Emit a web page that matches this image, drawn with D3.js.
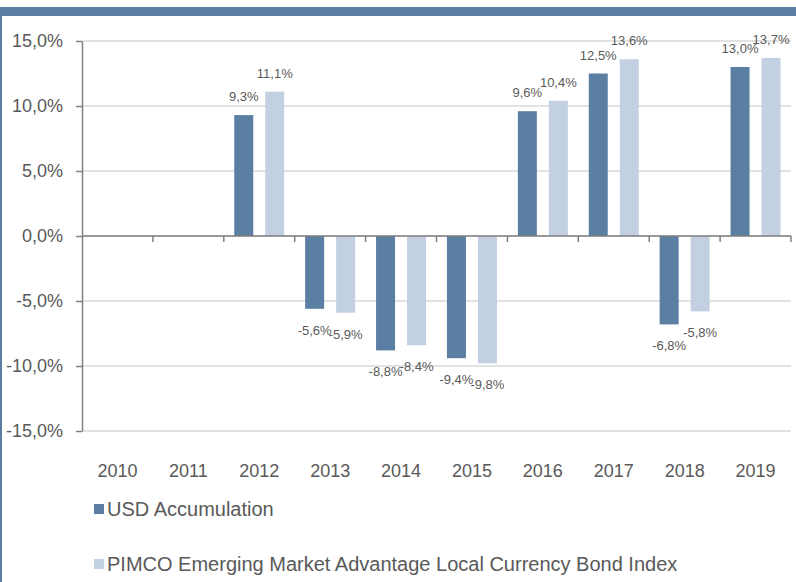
<!DOCTYPE html>
<html>
<head>
<meta charset="utf-8">
<script src="https://cdn.jsdelivr.net/npm/d3@7"></script>
<style>
  body { margin: 0; background: #fff; }
  svg { display: block; font-family: "Liberation Sans", Arial, sans-serif; }
</style>
</head>
<body>
<svg id="chart" width="796" height="582"></svg>
<script>
let years = ["2010","2011","2012","2013","2014","2015","2016","2017","2018","2019"];
let fund = [null, null, 9.3, -5.6, -8.8, -9.4, 9.6, 12.5, -6.8, 13.0];
let index = [null, null, 11.1, -5.9, -8.4, -9.8, 10.4, 13.6, -5.8, 13.7];
let yTicks = [15, 10, 5, 0, -5, -10, -15];
let seriesNames = ["USD Accumulation", "PIMCO Emerging Market Advantage Local Currency Bond Index"];
let colors = ["#5b7fa3", "#c3d0e2"];

let fmt = v => d3.format(".1f")(v).replace(".", ",").replace("−", "-") + "%";

let svg = d3.select("#chart");
let plotLeft = 82, plotRight = 791, plotTop = 41, plotBottom = 431;

// frame
svg.append("rect").attr("x", 0).attr("y", 7).attr("width", 796).attr("height", 9).attr("fill", "#5b7fa3");
svg.append("rect").attr("x", 0).attr("y", 7).attr("width", 2).attr("height", 575).attr("fill", "#5b7fa3");

let x = d3.scaleBand().domain(years).range([plotLeft, plotRight]);
let y = d3.scaleLinear().domain([-15, 15]).range([plotBottom, plotTop]);

// gridlines
svg.append("g").selectAll("line").data(yTicks).enter().append("line")
    .attr("x1", plotLeft).attr("x2", plotRight)
    .attr("y1", d => y(d)).attr("y2", d => y(d))
    .attr("stroke", "#d9d9d9").attr("stroke-width", 1.5);

// y axis
let yAxis = svg.append("g").attr("transform", "translate(" + plotLeft + ",0)")
    .call(d3.axisLeft(y).tickValues(yTicks).tickSize(6).tickSizeOuter(0).tickPadding(13).tickFormat(fmt));
yAxis.select(".domain").attr("stroke", "#808080").attr("stroke-width", 1.5);
yAxis.selectAll(".tick line").attr("stroke", "#808080").attr("stroke-width", 1.5);
yAxis.selectAll("text").attr("fill", "#595959").style("font-size", "18px")
    .style("font-family", "'Liberation Sans', Arial, sans-serif");

// bars
let offsets = [-15.5, 15.5];
let barW = 19;
[fund, index].forEach((vals, i) => {
    let data = years.map((yr, j) => ({yr: yr, v: vals[j]})).filter(d => d.v !== null);
    svg.append("g").selectAll("rect").data(data).enter().append("rect")
        .attr("x", d => x(d.yr) + x.bandwidth() / 2 + offsets[i] - barW / 2)
        .attr("y", d => y(Math.max(0, d.v)))
        .attr("width", barW)
        .attr("height", d => Math.abs(y(d.v) - y(0)))
        .attr("fill", colors[i]);
    svg.append("g").selectAll("text").data(data).enter().append("text")
        .attr("x", d => x(d.yr) + x.bandwidth() / 2 + offsets[i])
        .attr("y", d => d.v >= 0 ? y(d.v) - 14 : y(d.v) + 26)
        .attr("text-anchor", "middle")
        .attr("fill", "#595959")
        .style("font-size", "13px")
        .text(d => fmt(d.v));
});

// zero axis with category ticks
let xAxis = svg.append("g").attr("transform", "translate(0," + y(0) + ")");
xAxis.append("line").attr("x1", plotLeft).attr("x2", plotRight).attr("stroke", "#808080").attr("stroke-width", 1.5);
xAxis.selectAll("line.tk").data(years).enter().append("line")
    .attr("class", "tk")
    .attr("x1", d => x(d) + x.bandwidth())
    .attr("x2", d => x(d) + x.bandwidth())
    .attr("y1", 0).attr("y2", 6)
    .attr("stroke", "#808080").attr("stroke-width", 1.5);

// year labels
svg.append("g").selectAll("text").data(years).enter().append("text")
    .attr("x", d => x(d) + x.bandwidth() / 2)
    .attr("y", 477)
    .attr("text-anchor", "middle")
    .attr("fill", "#595959")
    .style("font-size", "18px")
    .text(d => d);

// legend
let legend = svg.append("g").selectAll("g").data(seriesNames).enter().append("g")
    .attr("transform", (d, i) => "translate(94," + (509 + i * 55) + ")");
legend.append("rect").attr("x", 0).attr("y", -5).attr("width", 10).attr("height", 10)
    .attr("fill", (d, i) => colors[i]);
legend.append("text").attr("x", 13).attr("y", 7)
    .attr("fill", "#595959").style("font-size", "20px")
    .text(d => d);
</script>
</body>
</html>
